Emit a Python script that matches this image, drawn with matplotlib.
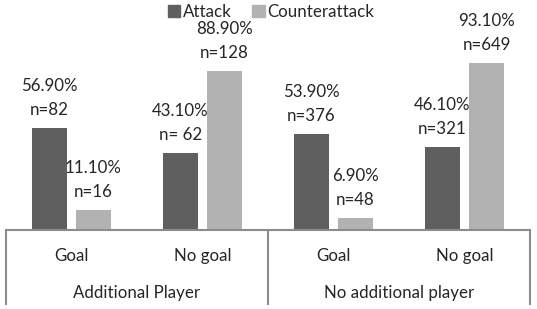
import matplotlib
matplotlib.use("Agg")
import matplotlib.pyplot as plt
from matplotlib.patches import Patch

plt.rcParams['font.family'] = ['Lato', 'DejaVu Sans']

categories = ["Goal", "No goal", "Goal", "No goal"]
groups = ["Additional Player", "No additional player"]
series_names = ["Attack", "Counterattack"]
attack_pct = [56.9, 43.1, 53.9, 46.1]
counter_pct = [11.1, 88.9, 6.9, 93.1]
attack_n = ["82", " 62", "376", "321"]
counter_n = ["16", "128", "48", "649"]

c_attack = "#5f5f5f"
c_counter = "#b2b2b2"
line_c = "#8c8c8c"
text_c = "#262626"

W, H = 537, 309
fig = plt.figure(figsize=(W / 100, H / 100), dpi=100)
ax_l, ax_r = 6, 530
ax_top, ax_bot = 51, 230
ax = fig.add_axes([ax_l / W, 1 - ax_bot / H, (ax_r - ax_l) / W, (ax_bot - ax_top) / H])
ax.set_xlim(-0.5, 3.5)
ax.set_ylim(0, 100)

x = list(range(len(categories)))
off = 0.168
w = 0.267
ax.bar([i - off for i in x], attack_pct, width=w, color=c_attack, label=series_names[0], zorder=2)
ax.bar([i + off for i in x], counter_pct, width=w, color=c_counter, label=series_names[1], zorder=2)

fs = 12.2
px_per_unit = (ax_bot - ax_top) / 100.0
for i in x:
    for xi, v, n in ((i - off, attack_pct[i], attack_n[i]), (i + off, counter_pct[i], counter_n[i])):
        top = v
        ax.text(xi, top + 18 / px_per_unit, "n=" + n, ha="center", va="center", fontsize=fs, color=text_c)
        ax.text(xi, top + 42 / px_per_unit, f"{v:.2f}%", ha="center", va="center", fontsize=fs, color=text_c)

for s in ["top", "right", "left"]:
    ax.spines[s].set_visible(False)
ax.spines["bottom"].set_color(line_c)
ax.spines["bottom"].set_linewidth(1.5)
ax.set_xticks([])
ax.set_yticks([])

tr = ax.get_xaxis_transform()
hpx = ax_bot - ax_top
for xv in (-0.5, 1.5, 3.5):
    ax.plot([xv, xv], [0, -75 / hpx], transform=tr, color=line_c, lw=1.5, clip_on=False, solid_capstyle="butt")
for i, c in enumerate(categories):
    ax.text(i, -26 / hpx, c, transform=tr, ha="center", va="center", fontsize=fs, color=text_c)
for g, gx in zip(groups, (0.5, 2.5)):
    ax.text(gx, -63 / hpx, g, transform=tr, ha="center", va="center", fontsize=fs, color=text_c)

handles = [Patch(color=c_attack), Patch(color=c_counter)]
fig.legend(handles, series_names, loc="center", bbox_to_anchor=(271 / W, 1 - 12 / H), ncol=2,
           frameon=False, fontsize=fs, handlelength=0.75, handleheight=0.65, handletextpad=0.15,
           columnspacing=1.2, borderpad=0, borderaxespad=0, labelcolor=text_c)

fig.savefig("out.png", dpi=100)
